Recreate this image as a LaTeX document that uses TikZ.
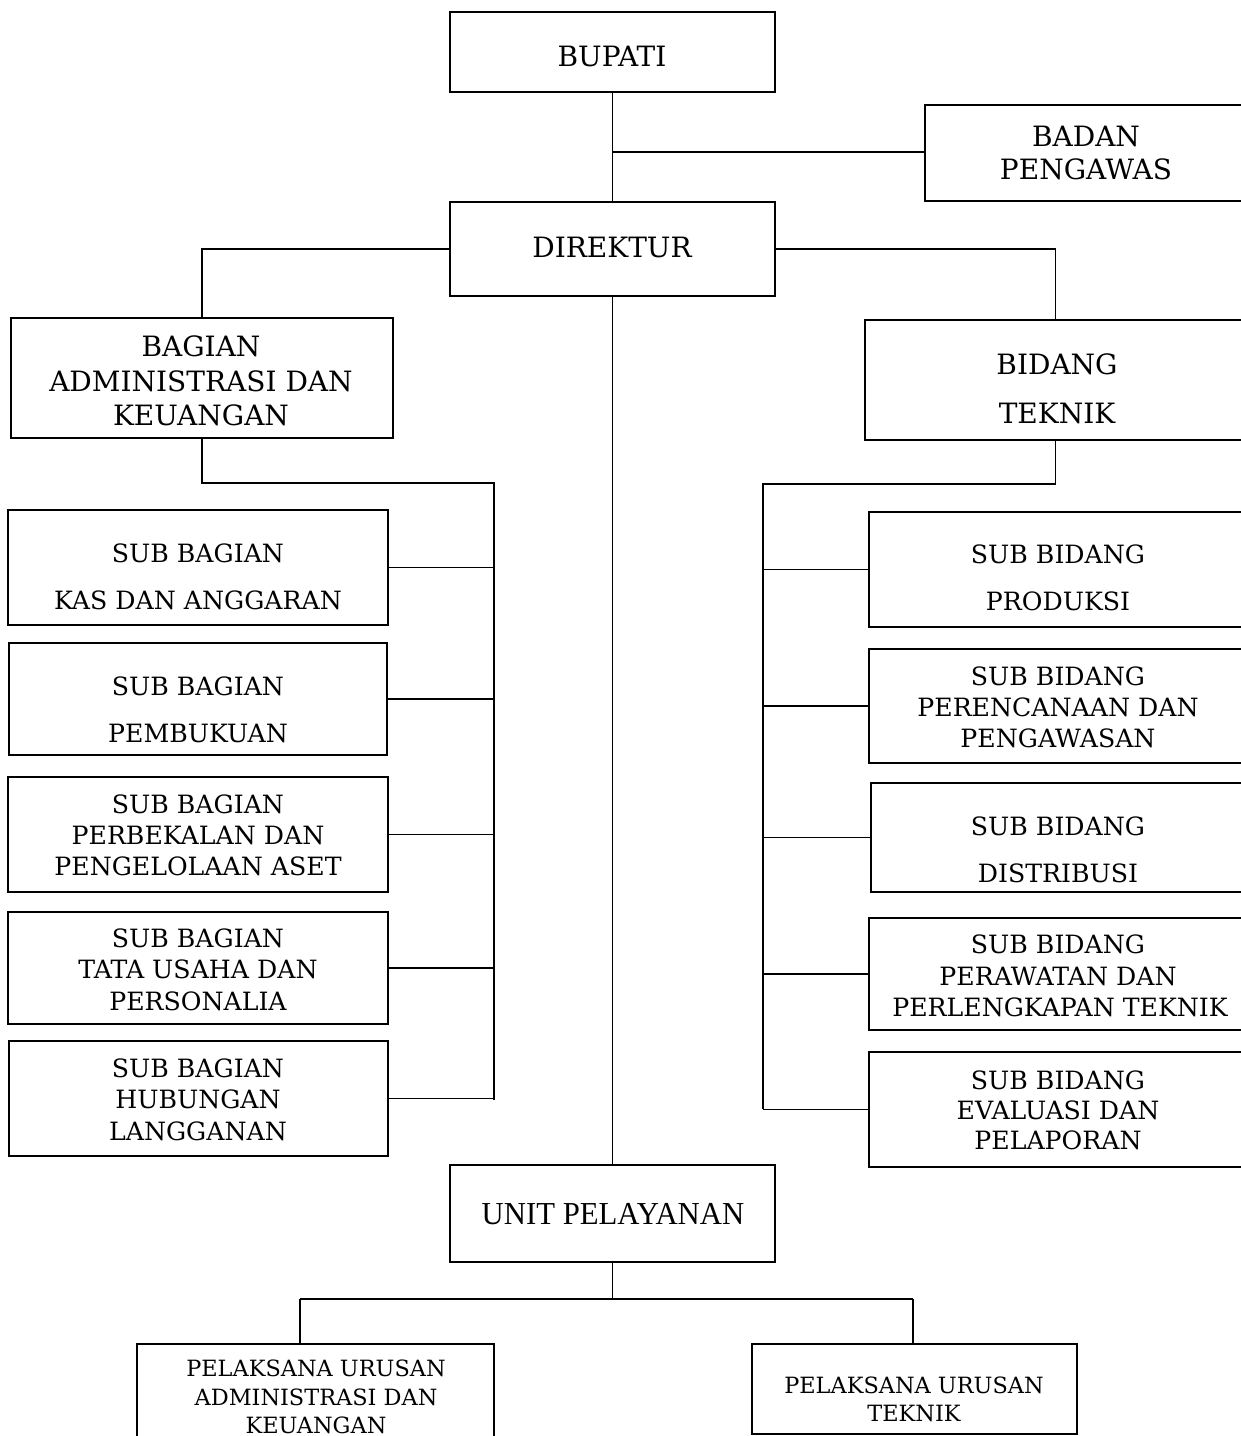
\documentclass[tikz,border=0pt]{standalone}
\usepackage{fontspec}
\usepackage{graphicx}
\setmainfont{DejaVu Serif}
\newfontfamily\unitfont{Liberation Serif}
\newcommand\orgbox[5]{\node[bx, minimum width={(#4-#2)*1pt}, minimum height={(#5-#3)*1pt}] (#1) at ({(#2+#4)/2},{(#3+#5)/2}) {};}
\begin{document}
\begin{tikzpicture}[x=1pt,y=-1pt,
  bx/.style={draw, line width=1.5pt, inner sep=0pt, outer sep=0pt},
  ln/.style={line width=1.5pt},
  txt/.style={anchor=base, inner sep=0pt},
  big/.style={txt, font=\fontsize{28}{32}\selectfont},
  mid/.style={txt, font=\fontsize{25.2}{29}\selectfont},
  sml/.style={txt, font=\fontsize{22.4}{26}\selectfont}]
\clip (0,0) rectangle (1241,1436);
\fill[white] (0,0) rectangle (1241,1436);
% boxes
\orgbox{bupati}{450}{12}{775}{92}
\orgbox{badan}{925}{105}{1246}{201}
\orgbox{dir}{450}{202}{775}{296}
\orgbox{bagian}{11}{318}{393}{438}
\orgbox{bidang}{865}{320}{1246}{440}
\orgbox{sba}{8}{510}{388}{625}
\orgbox{sbb}{9}{643}{387}{755}
\orgbox{sbc}{8}{777}{388}{892}
\orgbox{sbd}{8}{912}{388}{1024}
\orgbox{sbe}{9}{1041}{388}{1156}
\orgbox{sda}{869}{512}{1246}{627}
\orgbox{sdb}{869}{649}{1246}{763}
\orgbox{sdc}{871}{783}{1246}{892}
\orgbox{sdd}{869}{918}{1246}{1030}
\orgbox{sde}{869}{1052}{1246}{1167}
\orgbox{unit}{450}{1165}{775}{1262}
\orgbox{pl}{137}{1344}{494}{1444}
\orgbox{pr}{752}{1344}{1077}{1434}
% texts
\node[big] (t1) at (612,66) {BUPATI};
\node[big] (t2a) at (1086,146) {BADAN};
\node[big] (t2b) at (1086,179) {PENGAWAS};
\node[big] (t3) at (612,257) {DIREKTUR};
\node[big] (t4a) at (201,356) {BAGIAN};
\node[big] (t4b) at (201,391) {ADMINISTRASI DAN};
\node[big] (t4c) at (201,425) {KEUANGAN};
\node[big] (t5a) at (1057,374) {BIDANG};
\node[big] (t5b) at (1057,423) {TEKNIK};
\node[mid] (s1a) at (198,562) {SUB BAGIAN};
\node[mid] (s1b) at (198,609) {KAS DAN ANGGARAN};
\node[mid] (s2a) at (198,695) {SUB BAGIAN};
\node[mid] (s2b) at (198,742) {PEMBUKUAN};
\node[mid] (s3a) at (198,813) {SUB BAGIAN};
\node[mid] (s3b) at (198,844) {PERBEKALAN DAN};
\node[mid] (s3c) at (198,875) {PENGELOLAAN ASET};
\node[mid] (s4a) at (198,947) {SUB BAGIAN};
\node[mid] (s4b) at (198,978) {TATA USAHA DAN};
\node[mid] (s4c) at (198,1010) {PERSONALIA};
\node[mid] (s5a) at (198,1077) {SUB BAGIAN};
\node[mid] (s5b) at (198,1108) {HUBUNGAN};
\node[mid] (s5c) at (198,1140) {LANGGANAN};
\node[mid] (d1a) at (1058,563) {SUB BIDANG};
\node[mid] (d1b) at (1058,610) {PRODUKSI};
\node[mid] (d2a) at (1058,685) {SUB BIDANG};
\node[mid] (d2b) at (1058,716) {PERENCANAAN DAN};
\node[mid] (d2c) at (1058,747) {PENGAWASAN};
\node[mid] (d3a) at (1058,835) {SUB BIDANG};
\node[mid] (d3b) at (1058,882) {DISTRIBUSI};
\node[mid] (d4a) at (1058,953) {SUB BIDANG};
\node[mid] (d4b) at (1058,985) {PERAWATAN DAN};
\node[mid] (d4c) at (1060,1016) {PERLENGKAPAN TEKNIK};
\node[mid] (d5a) at (1058,1089) {SUB BIDANG};
\node[mid] (d5b) at (1058,1119) {EVALUASI DAN};
\node[mid] (d5c) at (1058,1149) {PELAPORAN};
\node[txt, font=\unitfont\fontsize{32}{36}\selectfont] (u1) at (613,1224) {\scalebox{0.96}[1]{UNIT PELAYANAN}};
\node[sml] (p1a) at (316,1376) {PELAKSANA URUSAN};
\node[sml] (p1b) at (316,1405) {ADMINISTRASI DAN};
\node[sml] (p1c) at (316,1433) {KEUANGAN};
\node[sml] (p2a) at (914,1393) {PELAKSANA URUSAN};
\node[sml] (p2b) at (914,1421) {TEKNIK};
% connectors
\coordinate (j1) at (612,152);
\draw[ln] (bupati.south) -- (dir.north);
\draw[ln] (j1) -- (j1 -| badan.west);
\draw[ln] (dir.west) -| (bagian.north);
\draw[ln] (dir.east) -| (bidang.north);
\draw[ln] (dir.south) -- (unit.north);
\coordinate (lbus) at (494,483);
\coordinate (lend) at (494,1100);
\draw[ln] (bagian.south) |- (lbus) -- (lend);
\foreach \b in {sba,sbb,sbc,sbd,sbe} \draw[ln] (\b.east) -- (\b.east -| lbus);
\coordinate (rbus) at (763,484);
\coordinate (rend) at (763,1109);
\draw[ln] (bidang.south) |- (rbus) -- (rend);
\foreach \b in {sda,sdb,sdc,sdd,sde} \draw[ln] (\b.west) -- (\b.west -| rbus);
\coordinate (bl) at (300,1299);
\coordinate (br) at (913,1299);
\draw[ln] (unit.south) -- (unit.south |- bl);
\draw[ln] (bl) -- (br);
\draw[ln] (bl) -- (bl |- pl.north);
\draw[ln] (br) -- (br |- pr.north);
\end{tikzpicture}
\end{document}
